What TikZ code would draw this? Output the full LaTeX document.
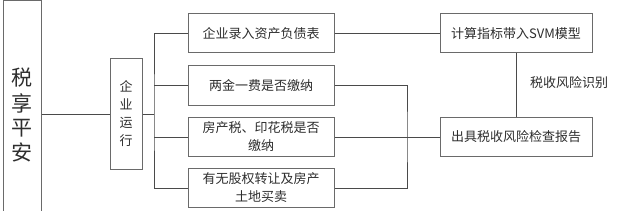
\documentclass[tikz,border=0pt]{standalone}
\usepackage{fontspec}
\setmainfont{Noto Sans CJK SC}
\definecolor{boxgray}{HTML}{6A6A6A}
\definecolor{linegray}{HTML}{4A4A4A}
\definecolor{txt}{HTML}{2E2E2E}
\begin{document}
\begin{tikzpicture}[x=1pt,y=-1pt,
  box/.style={draw=boxgray, line width=1pt, text=txt, inner sep=0pt, align=center,
    font=\fontsize{13}{18}\selectfont},
  midbox/.style={box, minimum width=146pt, minimum height=39pt},
  rbox/.style={box, minimum width=152pt, minimum height=39pt},
  conn/.style={draw=linegray, line width=0.9pt}]
\clip (0,0) rectangle (617,211);
\fill[white] (0,0) rectangle (617,211);
% left big box
\node[box, minimum width=38pt, minimum height=229pt, font=\fontsize{21}{27}\selectfont] (root) at (22,115)
  {\raisebox{-8pt}{\shortstack{税\\[3pt]享\\[3pt]平\\[3pt]安}}};
% enterprise box
\node[box, minimum width=32pt, minimum height=110pt] (op) at (126,114)
  {企\\业\\运\\行};
% middle column
\node[midbox] (m1) at (261,33.5) {企业录入资产负债表};
\node[midbox] (m2) at (261,85.5) {两金一费是否缴纳};
\node[midbox] (m3) at (261,137) {房产税、印花税是否\\缴纳};
\node[midbox] (m4) at (261,188) {有无股权转让及房产\\土地买卖};
% right column
\node[rbox] (r1) at (516,33.5) {计算指标带入SVM模型};
\node[rbox] (r2) at (516,137) {出具税收风险检查报告};
\node[text=txt, font=\fontsize{13}{18}\selectfont, inner sep=0pt] (lab) at (569,83) {税收风险识别};
% coordinates
\coordinate (bus) at (154,114);
\coordinate (jn) at (407,137);
% connectors
\draw[conn] (root.east |- op.west) -- (op.west);
\draw[conn] (op.east) -- (bus);
\draw[conn] (m1.west) -| (bus) |- (m4.west);
\draw[conn] (bus |- m2.west) -- (m2.west);
\draw[conn] (bus |- m3.west) -- (m3.west);
\draw[conn] (m1.east) -- (r1.west);
\draw[conn] (m2.east) -| (jn) |- (m4.east);
\draw[conn] (m3.east) -- (r2.west);
\draw[conn] (r1.south) -- (r2.north);
\end{tikzpicture}
\end{document}
